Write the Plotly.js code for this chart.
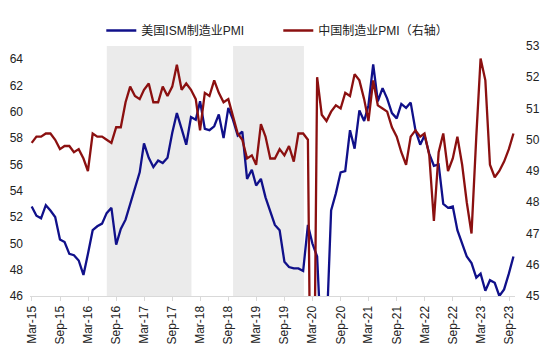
<!DOCTYPE html>
<html><head><meta charset="utf-8">
<script src="https://cdn.plot.ly/plotly-3.0.1.min.js"></script>
<style>html,body{margin:0;padding:0;background:#fff}#chart{width:550px;height:356px}</style>
</head><body><div id="chart"></div>
<script>
// first month of both monthly series (values dated at month end)
const firstYear = 2015, firstMonth = 2;

// 美国ISM制造业PMI (left axis), Feb-2015 .. Sep-2023
const usIsmPmi = [
  52.8, 52.1, 51.9, 52.9, 52.5, 52.0, 50.3, 50.1, 49.2, 49.1, 48.7,
  47.6, 49.2, 51.0, 51.3, 51.5, 52.3, 52.7, 49.9, 51.1, 51.8, 53.0, 54.2,
  55.4, 57.6, 56.5, 55.8, 56.3, 56.1, 56.5, 58.4, 59.9, 58.7, 57.5, 59.6,
  59.4, 60.8, 58.7, 58.6, 58.9, 59.8, 58.0, 60.3, 59.4, 58.2, 58.5, 54.9,
  55.6, 54.4, 54.9, 53.5, 52.5, 51.4, 51.0, 48.6, 48.2, 48.1, 48.1, 47.9,
  51.4, 50.0, 49.0, 41.5, 43.1, 52.5, 53.8, 55.4, 55.5, 58.6, 57.2, 60.1,
  59.3, 60.5, 63.6, 60.8, 61.8, 61.0, 59.9, 59.5, 60.6, 60.3, 60.7, 58.6,
  57.5, 58.2, 56.8, 55.9, 56.0, 53.0, 52.7, 52.8, 51.0, 49.9, 49.0, 48.5,
  47.4, 47.7, 46.4, 47.2, 47.0, 46.0, 46.5, 47.7, 49.0
];

// 中国制造业PMI (right axis), Feb-2015 .. Sep-2023
const chinaPmi = [
  49.9, 50.1, 50.1, 50.2, 50.2, 50.0, 49.7, 49.8, 49.8, 49.6, 49.7,
  49.4, 49.0, 50.2, 50.1, 50.1, 50.0, 49.9, 50.4, 50.4, 51.2, 51.7, 51.4,
  51.3, 51.6, 51.8, 51.2, 51.2, 51.7, 51.4, 51.7, 52.4, 51.6, 51.8, 51.6,
  51.3, 50.3, 51.5, 51.4, 51.9, 51.5, 51.2, 51.3, 50.8, 50.2, 50.0, 49.4,
  49.5, 49.2, 50.5, 50.1, 49.4, 49.4, 49.7, 49.5, 49.8, 49.3, 50.2, 50.2,
  50.0, 35.7, 52.0, 50.8, 50.6, 50.9, 51.1, 51.0, 51.5, 51.4, 52.1, 51.9,
  51.3, 50.6, 51.9, 51.1, 51.0, 50.9, 50.4, 50.1, 49.6, 49.2, 50.1, 50.3,
  50.1, 50.2, 49.5, 47.4, 49.6, 50.2, 49.0, 49.4, 50.1, 49.2, 48.0, 47.0,
  50.1, 52.6, 51.9, 49.2, 48.8, 49.0, 49.3, 49.7, 50.2
];

const seriesNames = ['美国ISM制造业PMI', '中国制造业PMI（右轴）'];
const shadedStarts = ['2016-07-01', '2018-10-01'];
const shadedEnds   = ['2018-01-03', '2020-01-05'];
const leftTicks  = [46, 48, 50, 52, 54, 56, 58, 60, 62, 64];
const rightTicks = [45, 46, 47, 48, 49, 50, 51, 52, 53];

function pad(n) { return (n < 10 ? '0' : '') + n; }
function monthEndDates(y0, m0, n) {
  const out = [];
  for (let k = 0; k < n; k++) {
    const d = new Date(Date.UTC(y0, m0 - 1 + k + 1, 0));
    out.push(d.getUTCFullYear() + '-' + pad(d.getUTCMonth() + 1) + '-' + pad(d.getUTCDate()));
  }
  return out;
}
const dates = monthEndDates(firstYear, firstMonth, usIsmPmi.length);

const FONT = 'Liberation Sans, Arial, Noto Sans CJK SC, sans-serif';

const traces = [
  { x: dates, y: usIsmPmi, name: seriesNames[0], type: 'scatter', mode: 'lines',
    line: { color: '#10108a', width: 2.3 }, yaxis: 'y' },
  { x: dates, y: chinaPmi, name: seriesNames[1], type: 'scatter', mode: 'lines',
    line: { color: '#8b1010', width: 2.3 }, yaxis: 'y2' }
];

const shapes = shadedStarts.map((s, k) => ({
  type: 'rect', xref: 'x', yref: 'paper', x0: s, x1: shadedEnds[k], y0: 0, y1: 1,
  fillcolor: '#ebebeb', line: { width: 0 }, layer: 'below'
}));

const layout = {
  width: 550, height: 356,
  margin: { l: 30, r: 35, t: 46, b: 60, pad: 0 },
  paper_bgcolor: '#fff', plot_bgcolor: '#fff',
  font: { family: FONT, size: 12, color: '#222' },
  showlegend: true,
  legend: { orientation: 'h', x: 0.147, xanchor: 'left', y: 1.12, yanchor: 'top',
    font: { family: FONT, size: 12, color: '#222' }, bgcolor: 'rgba(0,0,0,0)',
    itemwidth: 30, entrywidth: 132, entrywidthmode: 'pixels', tracegroupgap: 0 },
  shapes: shapes,
  xaxis: {
    type: 'date', range: ['2015-02-17', '2023-10-10'],
    tick0: '2015-03-01', dtick: 'M6', tickformat: '%b-%y', tickangle: -90,
    ticks: 'outside', ticklen: 4, tickcolor: '#d9d9d9', showline: true, linecolor: '#d9d9d9', linewidth: 1,
    showgrid: false, zeroline: false, tickfont: { size: 12, color: '#222' }
  },
  yaxis: {
    range: [46, 65], tickmode: 'array', tickvals: leftTicks,
    showgrid: false, zeroline: false, showline: false, ticks: '',
    ticklabelstandoff: 6, tickfont: { size: 12, color: '#222' }
  },
  yaxis2: {
    range: [45, 53], tickmode: 'array', tickvals: rightTicks, overlaying: 'y', side: 'right',
    showgrid: false, zeroline: false, showline: false, ticks: '',
    ticklabelstandoff: 10, tickfont: { size: 12, color: '#222' }
  }
};

Plotly.newPlot('chart', traces, layout, { displayModeBar: false, staticPlot: true });
</script></body></html>
